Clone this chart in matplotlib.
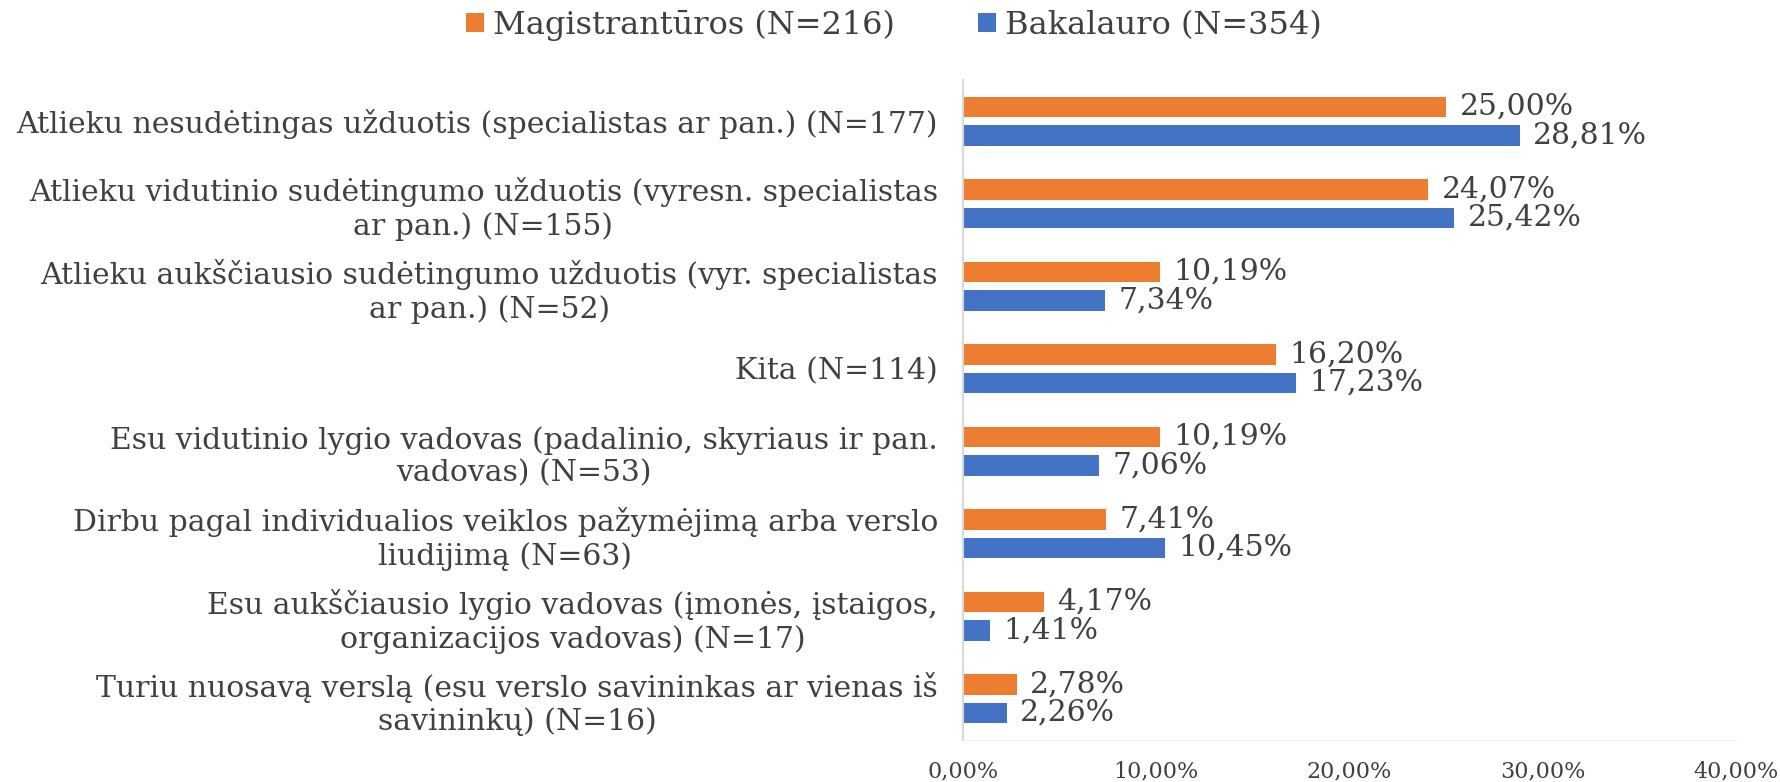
import matplotlib.pyplot as plt
import numpy as np

# Duomenys
kategorijos = [
    "Atlieku nesudėtingas užduotis (specialistas ar pan.) (N=177)",
    "Atlieku vidutinio sudėtingumo užduotis (vyresn. specialistas\nar pan.) (N=155)",
    "Atlieku aukščiausio sudėtingumo užduotis (vyr. specialistas\nar pan.) (N=52)",
    "Kita (N=114)",
    "Esu vidutinio lygio vadovas (padalinio, skyriaus ir pan.\nvadovas) (N=53)",
    "Dirbu pagal individualios veiklos pažymėjimą arba verslo\nliudijimą (N=63)",
    "Esu aukščiausio lygio vadovas (įmonės, įstaigos,\norganizacijos vadovas) (N=17)",
    "Turiu nuosavą verslą (esu verslo savininkas ar vienas iš\nsavininkų) (N=16)",
]
magistrantura = [25.00, 24.07, 10.19, 16.20, 10.19, 7.41, 4.17, 2.78]
bakalauras = [28.81, 25.42, 7.34, 17.23, 7.06, 10.45, 1.41, 2.26]
serijos = ["Magistrantūros (N=216)", "Bakalauro (N=354)"]
xticks = [0, 10, 20, 30, 40]

ORANGE = "#ED7D31"
BLUE = "#4472C4"
TEXT = "#404040"

plt.rcParams['font.family'] = ['DejaVu Serif']

fig = plt.figure(figsize=(17.81, 7.82), dpi=100)
ax = fig.add_axes([963 / 1781, 1 - 740 / 782, (1736 - 963) / 1781, (740 - 80) / 782])

y = np.arange(len(kategorijos))
h = 0.25
off = 0.172

b1 = ax.barh(y - off, magistrantura, height=h, color=ORANGE, label=serijos[0])
b2 = ax.barh(y + off, bakalauras, height=h, color=BLUE, label=serijos[1])

fs = 21.5
for bars, vals in [(b1, magistrantura), (b2, bakalauras)]:
    for rect, v in zip(bars, vals):
        ax.text(rect.get_width() + 0.7, rect.get_y() + rect.get_height() / 2,
                f"{v:.2f}%".replace(".", ","), va="center", ha="left",
                fontsize=fs, color=TEXT)

ax.set_xlim(0, 40)
ax.set_ylim(len(kategorijos) - 0.5, -0.5)
ax.set_yticks(y)
ax.set_yticklabels(kategorijos, fontsize=fs, color=TEXT)
for lab in ax.get_yticklabels():
    lab.set_multialignment('center')
ax.set_xticks(xticks)
ax.set_xticklabels([f"{t:.2f}%".replace(".", ",") for t in xticks], fontsize=16, color=TEXT)
ax.tick_params(axis='both', length=0)
ax.tick_params(axis='x', pad=15)
ax.tick_params(axis='y', pad=18)

for s in ['top', 'right']:
    ax.spines[s].set_visible(False)
ax.spines['left'].set_color('#D9D9D9')
ax.spines['bottom'].set_color('#EFEFEF')
ax.spines['left'].set_linewidth(1.5)

fig.legend(handles=[b1, b2], loc='center', bbox_to_anchor=(0.502, 1 - 25 / 782),
           ncol=2, frameon=False, fontsize=23, labelcolor=TEXT,
           handlelength=0.55, handleheight=0.55, handletextpad=0.3, columnspacing=2.6)

fig.savefig("out.png", dpi=100)
